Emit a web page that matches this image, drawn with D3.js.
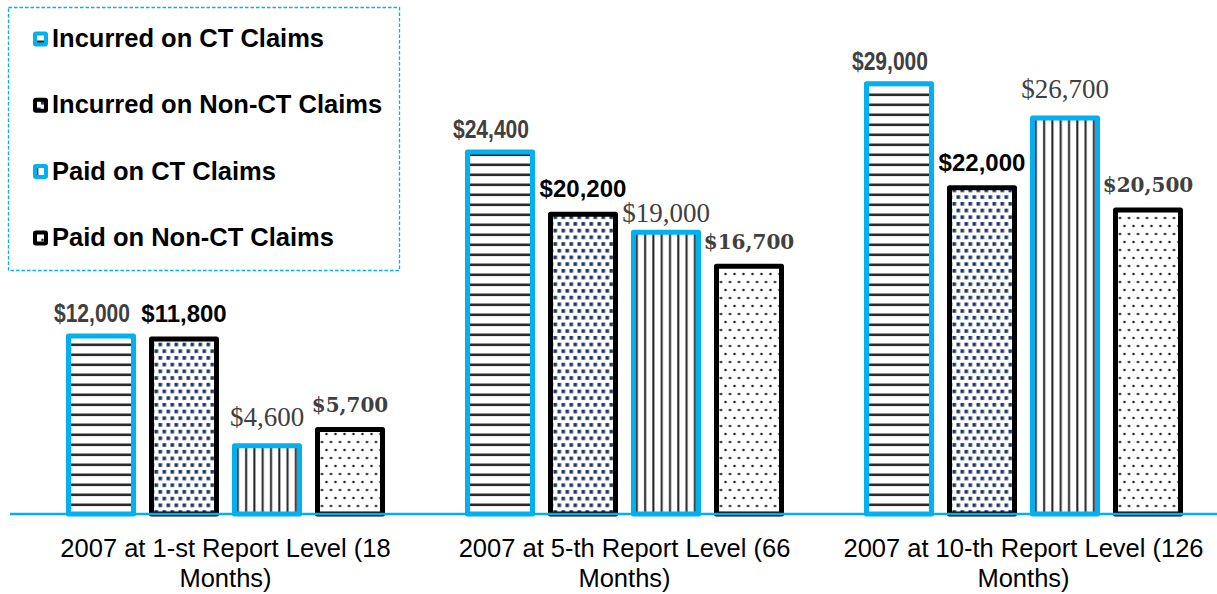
<!DOCTYPE html>
<html>
<head>
<meta charset="utf-8">
<script src="https://cdn.jsdelivr.net/npm/d3@7"></script>
<style>
  body { margin: 0; background: #fff; }
  svg { display: block; }
</style>
</head>
<body>
<div id="chart"></div>
<script>
// data
const categories = [
    "2007 at 1-st Report Level (18 Months)",
    "2007 at 5-th Report Level (66 Months)",
    "2007 at 10-th Report Level (126 Months)"
]
const seriesNames = ["Incurred on CT Claims", "Incurred on Non-CT Claims", "Paid on CT Claims", "Paid on Non-CT Claims"]
const incurredCT = [12000, 24400, 29000]
const incurredNonCT = [11800, 20200, 22000]
const paidCT = [4600, 19000, 26700]
const paidNonCT = [5700, 16700, 20500]

const seriesValues = [incurredCT, incurredNonCT, paidCT, paidNonCT]

// look of each series (sx squeezes the text sideways, the first one is a narrow face)
const styles = [
    { stroke: "#00b0f0", pattern: "hlines", font: "bold 26px 'Liberation Sans', Arial, sans-serif", sx: 0.81, color: "#404040", dx: -9, dy: 14 },
    { stroke: "#000000", pattern: "squares", font: "bold 24px 'Liberation Sans', Arial, sans-serif", sx: 1, color: "#000000", dx: 0, dy: 17 },
    { stroke: "#00b0f0", pattern: "vlines", font: "27px 'Liberation Serif', 'Times New Roman', serif", sx: 1, color: "#404040", dx: 0, dy: 19.5 },
    { stroke: "#000000", pattern: "dots", font: "bold 20px 'DejaVu Serif', serif", sx: 1, color: "#404040", dx: 0, dy: 17.5 }
]
// the $19,000 label sits lower than the rest
const labelNudge = { "1-2": 9.5 }

const width = 1217, height = 594
const baseY = 514

const svg = d3.select("#chart").append("svg")
    .attr("width", width)
    .attr("height", height)

// fill patterns
const defs = svg.append("defs")

const hl = defs.append("pattern").attr("id", "hlines")
    .attr("patternUnits", "userSpaceOnUse").attr("width", 10).attr("height", 10)
hl.append("rect").attr("width", 10).attr("height", 10).attr("fill", "#fff")
hl.append("rect").attr("y", 3.5).attr("width", 10).attr("height", 2.6).attr("fill", "#2b2b2b")

const vl = defs.append("pattern").attr("id", "vlines")
    .attr("patternUnits", "userSpaceOnUse").attr("width", 8.3).attr("height", 10)
vl.append("rect").attr("width", 8.3).attr("height", 10).attr("fill", "#fff")
vl.append("rect").attr("x", 3).attr("width", 2).attr("height", 10).attr("fill", "#222")

const sq = defs.append("pattern").attr("id", "squares")
    .attr("patternUnits", "userSpaceOnUse").attr("width", 8).attr("height", 13.4)
sq.append("rect").attr("width", 8).attr("height", 13.4).attr("fill", "#fff")
sq.append("rect").attr("x", 1).attr("y", 1).attr("width", 3.6).attr("height", 3.6).attr("fill", "#203864")
sq.append("rect").attr("x", 5).attr("y", 7.7).attr("width", 3.6).attr("height", 3.6).attr("fill", "#203864")
sq.append("rect").attr("x", -3).attr("y", 7.7).attr("width", 3.6).attr("height", 3.6).attr("fill", "#203864")

const dt = defs.append("pattern").attr("id", "dots")
    .attr("patternUnits", "userSpaceOnUse").attr("width", 18).attr("height", 16)
dt.append("rect").attr("width", 18).attr("height", 16).attr("fill", "#fff")
;[[2, 2], [11, 2], [6.5, 10], [15.5, 10]].forEach(p => {
    dt.append("circle").attr("cx", p[0]).attr("cy", p[1]).attr("r", 1.3).attr("fill", "#222")
})

// scales
const x0 = d3.scaleBand().domain(categories).range([26, 1223]).padding(0)
const x1 = d3.scaleBand().domain(d3.range(seriesNames.length))
    .range([-157, 157]).paddingInner(0.217).paddingOuter(0)
const y = d3.scaleLinear().domain([0, 30000]).range([baseY, 69])

const fmt = d3.format("$,")

// bars
const groups = svg.selectAll("g.group")
    .data(categories)
    .join("g")
    .attr("class", "group")
    .attr("transform", d => `translate(${x0(d) + x0.bandwidth() / 2},0)`)

groups.each(function (cat, ci) {
    const g = d3.select(this)
    seriesValues.forEach((vals, si) => {
        const v = vals[ci]
        const st = styles[si]
        g.append("rect")
            .attr("x", x1(si))
            .attr("y", y(v))
            .attr("width", x1.bandwidth())
            .attr("height", baseY - y(v))
            .attr("fill", `url(#${st.pattern})`)
            .attr("stroke", st.stroke)
            .attr("stroke-width", 5)
            .attr("stroke-linejoin", "round")
        const lx = x1(si) + x1.bandwidth() / 2 + st.dx
        const ly = y(v) - st.dy + (labelNudge[`${ci}-${si}`] || 0)
        g.append("text")
            .attr("transform", `translate(${lx},${ly}) scale(${st.sx},1)`)
            .attr("text-anchor", "middle")
            .style("font", st.font)
            .attr("fill", st.color)
            .text(fmt(v))
    })
})

// axis line
svg.append("line")
    .attr("x1", 10).attr("x2", width)
    .attr("y1", baseY).attr("y2", baseY)
    .attr("stroke", "#00b0f0")
    .attr("stroke-width", 2.5)

// category labels, wrapped to two lines
const catLabels = svg.selectAll("text.cat")
    .data(categories)
    .join("text")
    .attr("class", "cat")
    .attr("text-anchor", "middle")
    .style("font", "25.5px 'Liberation Sans', Arial, sans-serif")
    .attr("fill", "#000")

catLabels.each(function (d) {
    const t = d3.select(this)
    const cx = x0(d) + x0.bandwidth() / 2
    const words = d.split(" ")
    let line = [], lineNo = 0
    let tspan = t.append("tspan").attr("x", cx).attr("y", 557)
    words.forEach(w => {
        line.push(w)
        tspan.text(line.join(" "))
        if (tspan.node().getComputedTextLength() > 385 && line.length > 1) {
            line.pop()
            tspan.text(line.join(" "))
            line = [w]
            lineNo++
            tspan = t.append("tspan").attr("x", cx).attr("y", 557 + lineNo * 29.5).text(w)
        }
    })
})

// legend
const legend = svg.append("g")
legend.append("rect")
    .attr("x", 8.5).attr("y", 7.5)
    .attr("width", 391).attr("height", 263)
    .attr("fill", "#fff")
    .attr("stroke", "#00b0f0")
    .attr("stroke-width", 1.3)
    .attr("stroke-dasharray", "3.5,2")

const items = legend.selectAll("g.item")
    .data(seriesNames)
    .join("g")
    .attr("class", "item")
    .attr("transform", (d, i) => `translate(0,${47 + i * 66.3})`)

items.append("rect")
    .attr("x", 35).attr("y", -13.5)
    .attr("width", 11).attr("height", 11)
    .attr("rx", 1)
    .attr("fill", (d, i) => `url(#${styles[i].pattern})`)
    .attr("stroke", (d, i) => styles[i].stroke)
    .attr("stroke-width", 4)
    .attr("stroke-linejoin", "round")

items.append("text")
    .attr("x", 52).attr("y", 0)
    .style("font", "bold 25.5px 'Liberation Sans', Arial, sans-serif")
    .attr("fill", "#000")
    .text(d => d)
</script>
</body>
</html>
